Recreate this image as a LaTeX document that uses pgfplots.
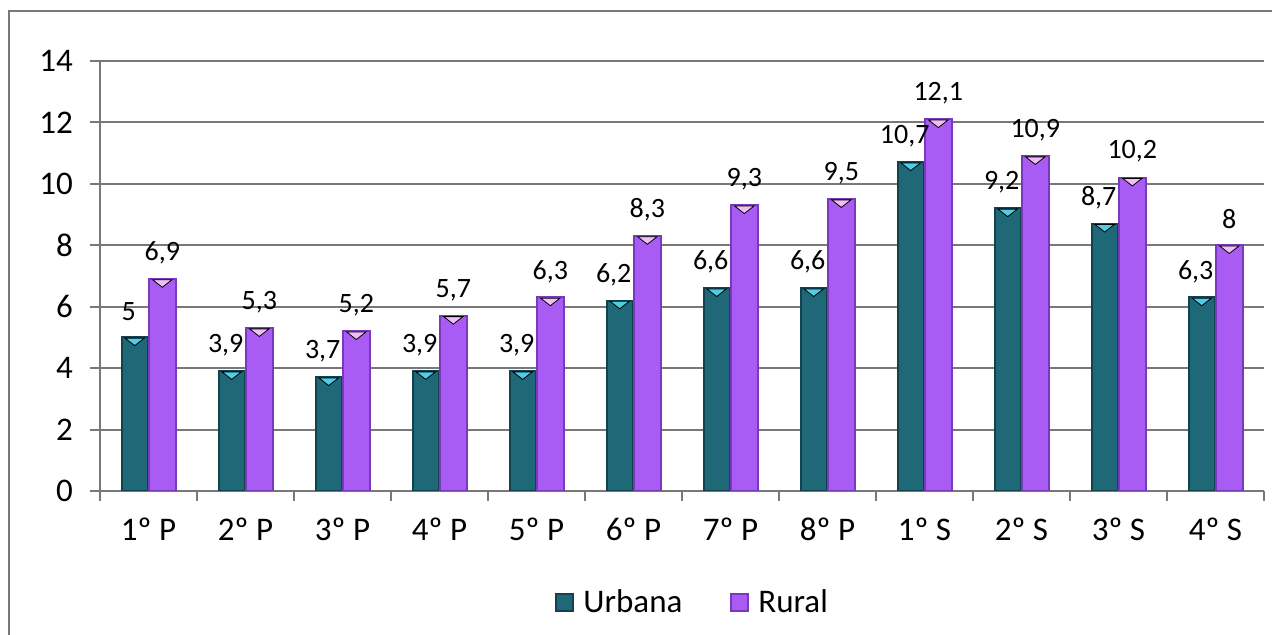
\documentclass[border=0pt]{standalone}
\usepackage{pgfplots}
\pgfplotsset{compat=1.18}
\usepackage{fontspec}
\setmainfont{Carlito}
\definecolor{gridc}{RGB}{120,120,120}
\definecolor{tealA}{RGB}{30,104,120}
\definecolor{tealB}{RGB}{18,66,78}
\definecolor{tealC}{RGB}{80,205,230}
\definecolor{purA}{RGB}{169,92,244}
\definecolor{purB}{RGB}{118,58,186}
\definecolor{purC}{RGB}{240,190,245}
\pgfplotstableread{
x u r
1 5 6.9
2 3.9 5.3
3 3.7 5.2
4 3.9 5.7
5 3.9 6.3
6 6.2 8.3
7 6.6 9.3
8 6.6 9.5
9 10.7 12.1
10 9.2 10.9
11 8.7 10.2
12 6.3 8
}\data
\begin{document}
\begin{tikzpicture}[x=1pt,y=1pt]
\useasboundingbox (0,0) rectangle (636,317.5);
\draw[gridc, line width=1pt] (4.5,-10) -- (4.5,312) -- (660,312);
\begin{axis}[
  at={(50pt,72pt)}, anchor=south west,
  width=582pt, height=215pt, scale only axis,
  xmin=0.5, xmax=12.5, ymin=0, ymax=14,
  ytick={0,2,...,14},
  xtick={1,...,12},
  xticklabels={1º P,2º P,3º P,4º P,5º P,6º P,7º P,8º P,1º S,2º S,3º S,4º S},
  minor xtick={0.5,1.5,...,12.5},
  axis x line*=bottom, axis y line*=left,
  axis line style={gridc, line width=1pt},
  ymajorgrids, grid style={gridc, line width=1pt},
  tick align=outside,
  major tick length=5pt, minor tick length=5pt,
  xtick style={draw=none},
  minor x tick style={draw=gridc, line width=1pt},
  ytick style={gridc, line width=1pt},
  tick label style={font=\fontsize{16.5}{18}\selectfont, text=black},
  yticklabel style={xshift=-5pt},
  xticklabel style={yshift=-5pt},
  /pgf/number format/assume math mode=true,
  /pgf/number format/use comma,
  ybar, bar width=13.2pt,
  legend style={at={(0.51,-0.26)}, anchor=center, legend columns=2, draw=none, fill=none,
    font=\fontsize{16.5}{18}\selectfont,
    /tikz/every even column/.append style={column sep=22pt}},
  legend image code/.code={\draw[#1] (0pt,-4.2pt) rectangle (8.5pt,4.2pt); \path (11pt,0pt);},
  every node near coord/.append style={font=\fontsize{14}{16}\selectfont, text=black, anchor=center, /pgf/number format/use comma, /pgf/number format/assume math mode=true},
]
\addplot[bar shift=-6.9pt, draw=tealB, line width=1pt, fill=tealA,
  nodes near coords, every node near coord/.append style={xshift=-3pt, yshift=13pt}]
  table[x=x, y=u] {\data};
\addplot[bar shift=6.9pt, draw=purB, line width=1pt, fill=purA,
  nodes near coords, every node near coord/.append style={yshift=13pt}]
  table[x=x, y=r] {\data};
\legend{Urbana, Rural}
\addplot[forget plot, only marks, mark=triangle*, mark size=5.6pt, draw=none,
  mark options={draw=none, fill=tealC, xshift=-6.9pt, yshift=-1.6pt, yscale=-0.45}]
  table[x=x, y=u] {\data};
\addplot[forget plot, only marks, mark=triangle*, mark size=5.6pt, draw=none,
  mark options={draw=none, fill=purC, xshift=6.9pt, yshift=-1.6pt, yscale=-0.45}]
  table[x=x, y=r] {\data};
\end{axis}
\end{tikzpicture}
\end{document}
